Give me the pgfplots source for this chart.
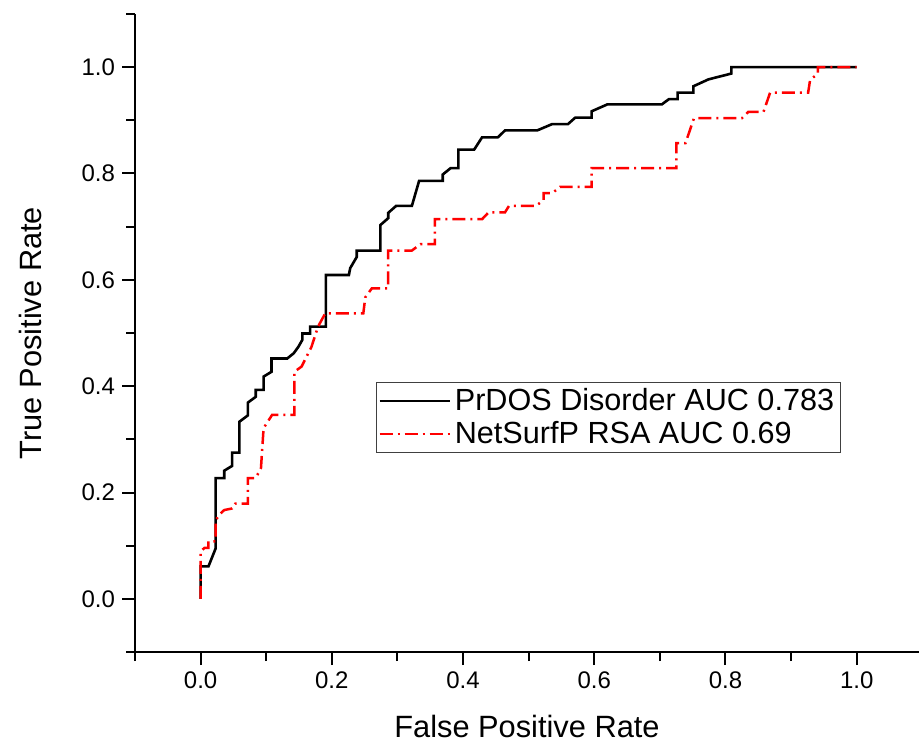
\documentclass[border=0pt]{standalone}
\usepackage{fontspec}
\setmainfont{Liberation Sans}
\usepackage{pgfplots}
\pgfplotsset{compat=1.18}
\begin{document}
\begin{tikzpicture}
\path[use as bounding box] (0,0) rectangle (459.5pt,372pt);
\begin{axis}[
  at={(67.5pt,46pt)}, anchor=south west,
  scale only axis, width=392pt, height=319pt,
  xmin=-0.1, xmax=1.095, ymin=-0.1, ymax=1.1,
  axis x line*=bottom, axis y line*=left,
  axis line style={-, line width=1pt, black},
  every tick/.style={black, line width=1pt},
  tick align=outside,
  major tick length=6.5pt, minor tick length=4.5pt,
  xtick={0,0.2,0.4,0.6,0.8,1.0},
  minor xtick={-0.1,0.1,0.3,0.5,0.7,0.9},
  ytick={0,0.2,0.4,0.6,0.8,1.0},
  minor ytick={-0.1,0.1,0.3,0.5,0.7,0.9,1.1},
  /pgf/number format/assume math mode=true,
  xticklabel style={/pgf/number format/.cd, fixed, fixed zerofill, precision=1},
  yticklabel style={/pgf/number format/.cd, fixed, fixed zerofill, precision=1},
  ticklabel style={font=\fontsize{12}{14}\selectfont},
  xlabel={False Positive Rate}, ylabel={True Positive Rate},
  label style={font=\fontsize{15.4}{18}\selectfont},
  xlabel style={at={(axis description cs:0.5,-0.117)}, anchor=center},
  ylabel style={at={(axis description cs:-0.133,0.5)}, anchor=center, rotate=0},
  legend style={at={(axis cs:0.267,0.408)}, anchor=north west,
    draw=black!75, line width=0.5pt, inner xsep=1pt, inner ysep=1pt,
    font=\fontsize{15.3}{17.5}\selectfont, row sep=0pt,
    /tikz/every even column/.append style={column sep=0pt}},
  legend cell align=left,
  legend image code/.code={\draw[#1] (0pt,0pt) -- (35pt,0pt);},
]
\addplot[black, line width=1.3pt] coordinates {
(0,0) (0,0.061) (0.012,0.061) (0.023,0.095) (0.023,0.227) (0.036,0.227)
(0.036,0.241) (0.048,0.250) (0.048,0.275) (0.059,0.275) (0.059,0.333)
(0.072,0.345) (0.072,0.369) (0.084,0.380) (0.084,0.393) (0.096,0.393)
(0.096,0.418) (0.108,0.427) (0.108,0.452) (0.132,0.452) (0.142,0.462)
(0.149,0.474) (0.155,0.487) (0.155,0.499) (0.167,0.499) (0.167,0.512)
(0.191,0.512) (0.191,0.609) (0.226,0.609) (0.228,0.622) (0.238,0.643)
(0.238,0.655) (0.274,0.655) (0.274,0.703) (0.286,0.716) (0.286,0.726)
(0.298,0.739) (0.322,0.739) (0.333,0.786) (0.369,0.786) (0.369,0.798)
(0.381,0.810) (0.393,0.810) (0.393,0.845) (0.417,0.845) (0.429,0.868)
(0.453,0.868) (0.464,0.881) (0.513,0.881) (0.536,0.893) (0.560,0.893)
(0.571,0.905) (0.596,0.905) (0.596,0.917) (0.620,0.930) (0.703,0.930)
(0.714,0.940) (0.727,0.940) (0.727,0.952) (0.751,0.952) (0.751,0.964)
(0.774,0.977) (0.809,0.988) (0.809,1.0) (1.0,1.0)
};
\addlegendentry{PrDOS Disorder AUC 0.783}
\addplot[red, line width=1.25pt, dash pattern=on 6.5pt off 2.5pt on 1pt off 2.5pt] coordinates {
(0,0) (0,0.089) (0.006,0.096) (0.012,0.096) (0.012,0.108) (0.023,0.108)
(0.023,0.148) (0.030,0.160) (0.036,0.167) (0.048,0.170) (0.053,0.179)
(0.072,0.179) (0.072,0.227) (0.084,0.227) (0.092,0.246) (0.096,0.321)
(0.109,0.346) (0.143,0.346) (0.143,0.427) (0.154,0.437) (0.169,0.474)
(0.179,0.512) (0.190,0.537) (0.248,0.537) (0.251,0.567) (0.261,0.584)
(0.286,0.584) (0.286,0.655) (0.322,0.655) (0.335,0.667) (0.357,0.667)
(0.357,0.714) (0.429,0.714) (0.439,0.727) (0.464,0.727) (0.470,0.739)
(0.511,0.739) (0.523,0.750) (0.523,0.763) (0.536,0.763) (0.548,0.775)
(0.596,0.775) (0.596,0.810) (0.725,0.810) (0.725,0.857) (0.739,0.857)
(0.752,0.904) (0.825,0.904) (0.835,0.916) (0.858,0.916) (0.868,0.952)
(0.926,0.952) (0.929,0.976) (0.941,0.988) (0.941,1.0) (1.0,1.0)
};
\addlegendentry{NetSurfP RSA AUC 0.69}
\end{axis}
\end{tikzpicture}
\end{document}
